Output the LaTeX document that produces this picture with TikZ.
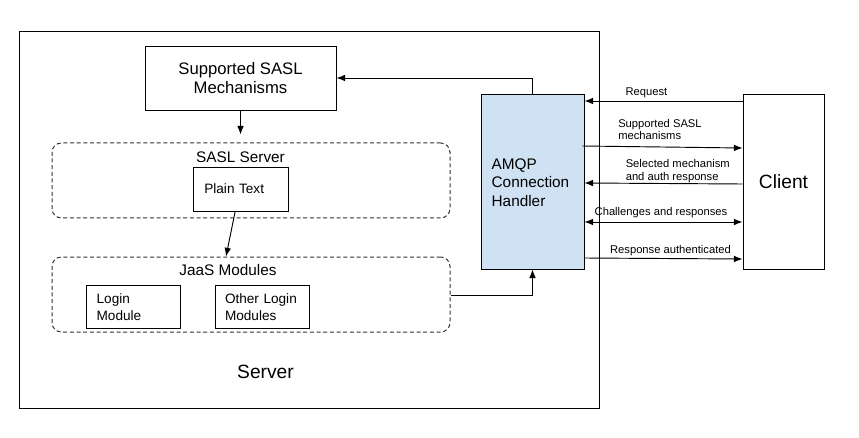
\documentclass[tikz,border=0pt]{standalone}
\usepackage{fontspec}
\setmainfont{Liberation Sans}
\usetikzlibrary{arrows.meta}
\tikzset{>={Latex[length=6.5pt,width=5pt]}}
\definecolor{handlerblue}{RGB}{207,226,243}
\tikzstyle{plainbox}=[draw,line width=0.7pt,inner sep=0pt]
\tikzstyle{groupbox}=[draw=black!80,dash pattern=on 3pt off 2pt,rounded corners=7pt,line width=0.75pt,inner sep=0pt,minimum width=298.5pt,minimum height=56.25pt]
\tikzstyle{modbox}=[plainbox,inner xsep=8pt,text width=54.5pt,minimum height=32.25pt,align=left,font=\fontsize{10.2}{12.8}\selectfont]
\tikzstyle{msg}=[line width=0.7pt]
\tikzstyle{msglabel}=[font=\fontsize{8.4}{9.5}\selectfont,inner sep=0pt,align=left]
\begin{document}
\begin{tikzpicture}[x=0.75pt,y=-0.75pt]
  \useasboundingbox (0,0) rectangle (859,438);
  % server side
  \node[plainbox,minimum width=435pt,minimum height=282.75pt] (server) at (309,219.5) {};
  \node[font=\fontsize{14.4}{17}\selectfont] (serverlabel) at (265.5,372) {Server};

  \node[plainbox,minimum width=143.25pt,minimum height=48pt,align=center,font=\fontsize{12.5}{14.25}\selectfont] (mech) at (240.5,78) {Supported SASL\\Mechanisms};

  \node[groupbox] (sasl) at (251,180.5) {};
  \node[font=\fontsize{11.5}{13.5}\selectfont] (sasllabel) at (240.5,157) {SASL Server};
  \node[modbox,inner xsep=8.5pt,text width=54.25pt,minimum height=33pt] (plain) at (240.5,189) {Plain Text};

  \node[groupbox] (jaas) at (251,294.5) {};
  \node[font=\fontsize{11.5}{13.5}\selectfont] (jaaslabel) at (228,270) {JaaS Modules};
  \node[modbox] (login) at (133,306.5) {\strut Login\\Module};
  \node[modbox,inner xsep=7.5pt,text width=55.5pt] (other) at (262,306.5) {\strut Other Login\\Modules};

  \node[plainbox,fill=handlerblue,inner xsep=8pt,text width=61.25pt,minimum height=131.25pt,align=left,font=\fontsize{11.5}{14}\selectfont] (amqp) at (532.5,181.5) {\strut AMQP\\Connection\\Handler};

  % client side
  \node[plainbox,minimum width=60.75pt,minimum height=131.25pt,font=\fontsize{14.4}{17}\selectfont] (client) at (783.5,181.5) {Client};

  % inside the server
  \draw[msg,->] (amqp.north) |- (mech.east);
  \draw[msg,->,shorten >=6pt] (mech.south) -- (mech.south |- sasl.north);
  \draw[msg,->] ([xshift=-4pt]plain.south) -- ([xshift=-18.75pt]jaas.north);
  \draw[msg,->] ([yshift=-1pt]jaas.east) -| (amqp.south);

  % messages
  \draw[msg,->] (client.west |- 0,101) -- (amqp.east |- 0,101);
  \node[msglabel] (reqlabel) at (646.5,92.5) {Request};
  \draw[msg,->] ([xshift=-1.5pt]amqp.east |- 0,146) -- (client.west |- 0,148);
  \node[msglabel,anchor=west] (mechlabel) at (618,129.5) {Supported SASL\\mechanisms};
  \draw[msg,->] (client.west |- 0,184) -- (amqp.east |- 0,183);
  \node[msglabel,anchor=west] (sellabel) at (625.5,171) {Selected mechanism\\and auth response};
  \draw[msg,<->] (amqp.east |- 0,222) -- (client.west |- 0,222);
  \node[msglabel] (challabel) at (661,213) {Challenges and responses};
  \draw[msg,->] (amqp.east |- 0,258) -- (client.west |- 0,259);
  \node[msglabel] (authlabel) at (670.5,250.5) {Response authenticated};
\end{tikzpicture}
\end{document}
